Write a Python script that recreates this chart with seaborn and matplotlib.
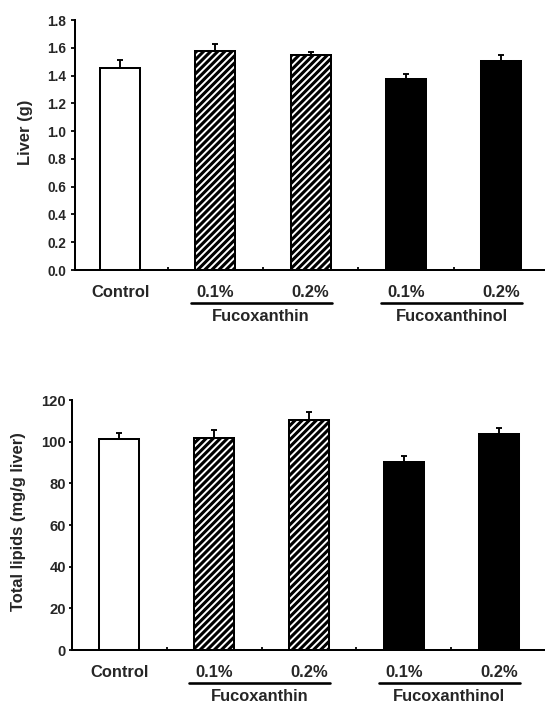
import numpy as np
import pandas as pd
import seaborn as sns
import matplotlib.pyplot as plt
from matplotlib import transforms

# bar keys (unique), shown tick labels and groups
keys = ['Control', 'FX 0.1%', 'FX 0.2%', 'FXOH 0.1%', 'FXOH 0.2%']
dose_labels = ['Control', '0.1%', '0.2%', '0.1%', '0.2%']
groups = ['Fucoxanthin', 'Fucoxanthinol']
group_first = [1, 3]
group_last = [2, 4]

liver = [1.457, 1.579, 1.548, 1.378, 1.502]
liver_err = [0.052, 0.051, 0.019, 0.033, 0.048]

lipids = [101.1, 101.8, 110.3, 90.4, 103.8]
lipids_err = [3.1, 3.6, 3.8, 2.8, 2.7]

bar_colors = ['white', 'white', 'white', 'black', 'black']
hatched = [False, True, True, False, False]

sns.set_style('ticks')
plt.rcParams['font.family'] = ['Liberation Sans', 'DejaVu Sans']
plt.rcParams['font.weight'] = 'bold'
plt.rcParams['hatch.linewidth'] = 2.6

DPI = 85
fig = plt.figure(figsize=(545 / DPI, 706 / DPI), dpi=DPI)
ax1 = fig.add_axes([75 / 545, 1 - 270 / 706, 470 / 545, 250 / 706])
ax2 = fig.add_axes([71.7 / 545, 1 - 650 / 706, 473.3 / 545, 250 / 706])


def draw_panel(ax, values, errs, ylim, yticks, fmt, ylabel, ytick_size,
               tick_len, tick_pad, xlim, label_xy):
    df = pd.DataFrame({'key': keys, 'value': values})
    sns.barplot(data=df, x='key', y='value', hue='key', order=keys,
                hue_order=keys, palette=bar_colors, width=0.42,
                edgecolor='black', linewidth=1.7, errorbar=None,
                legend=False, ax=ax)
    for patch, h in zip(ax.patches, hatched):
        if h:
            patch.set_hatch('////')
    x = np.arange(len(keys))
    ax.errorbar(x, values, yerr=[np.zeros(len(errs)), errs], fmt='none',
                ecolor='black', elinewidth=1.6, capsize=2.2, capthick=1.6,
                zorder=5)

    ax.set_ylim(*ylim)
    ax.set_xlim(*xlim)
    ax.set_yticks(yticks)
    ax.set_yticklabels([fmt.format(v) for v in yticks],
                       fontsize=ytick_size, fontweight='bold')
    ax.set_xticks(x)
    ax.set_xticklabels(dose_labels, fontsize=14, fontweight='bold')
    ax.set_xticks(x[:-1] + 0.5, minor=True)
    ax.tick_params(axis='x', which='major', length=0, pad=12.5)
    ax.tick_params(axis='x', which='minor', direction='in', length=2.5,
                   width=1.5, color='black')
    ax.tick_params(axis='y', direction='out', length=tick_len,
                   width=1.5, pad=tick_pad, color='black')
    ax.set_xlabel('')
    ax.set_ylabel(ylabel, fontsize=14, fontweight='bold')
    ax.yaxis.set_label_coords(*label_xy)

    sns.despine(ax=ax)
    for side in ['left', 'bottom']:
        ax.spines[side].set_linewidth(1.7)
        ax.spines[side].set_color('black')

    # group underlines and names below the dose labels
    base = transforms.blended_transform_factory(ax.transData, ax.transAxes)
    line_tr = base + transforms.ScaledTranslation(0, -33 / DPI,
                                                  fig.dpi_scale_trans)
    text_tr = base + transforms.ScaledTranslation(0, -51 / DPI,
                                                  fig.dpi_scale_trans)
    for name, a, b in zip(groups, group_first, group_last):
        x0, x1 = a - 0.26, b + 0.22
        ax.plot([x0, x1], [0, 0], color='black', lw=2.2,
                transform=line_tr, clip_on=False)
        ax.text((x0 + x1) / 2, 0, name, transform=text_tr, ha='center',
                va='baseline', fontsize=14, fontweight='bold')


draw_panel(ax1, liver, liver_err, (0, 1.8), np.round(np.arange(0, 1.81, 0.2), 1),
           '{:.1f}', 'Liver (g)', 11.5, 3.4, 4.0, (-0.473, 4.46),
           (-0.090, 0.55))
draw_panel(ax2, lipids, lipids_err, (0, 120), np.arange(0, 121, 20),
           '{:d}', 'Total lipids (mg/g liver)', 12.5, 2.5, 2.5,
           (-0.50, 4.487), (-0.0955, 0.515))

fig.savefig('out.png', dpi=DPI)
